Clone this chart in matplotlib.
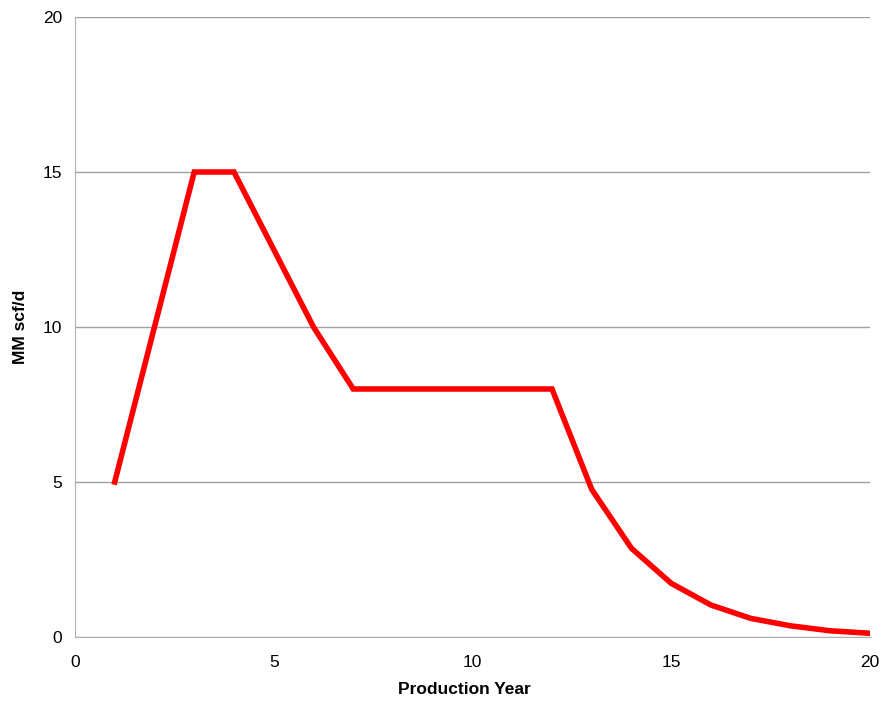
import matplotlib
matplotlib.use("Agg")
import matplotlib.pyplot as plt

plt.rcParams['font.family'] = ['Liberation Sans', 'DejaVu Sans']

years = list(range(1, 21))
production = [5, 10, 15, 15, 12.5, 10, 8, 8, 8, 8, 8, 8,
              4.76, 2.86, 1.73, 1.03, 0.60, 0.36, 0.20, 0.12]

fig = plt.figure(figsize=(8.83, 7.03), dpi=100)
ax = fig.add_axes([0.0849, 0.0939, 0.9004, 0.8819])

ax.plot(years, production, color="#ff0000", linewidth=4, solid_joinstyle="miter")

ax.set_xlim(0, 20)
ax.set_ylim(0, 20)
ax.set_xticks([0, 5, 10, 15, 20])
ax.set_yticks([0, 5, 10, 15, 20])
ax.tick_params(length=0, labelsize=12.5)
ax.tick_params(axis="y", pad=9)
ax.tick_params(axis="x", pad=13)
ax.yaxis.grid(True, color="#a0a0a0", linewidth=1)
ax.set_axisbelow(True)
for side in ["top", "right"]:
    ax.spines[side].set_visible(False)
for side in ["left", "bottom"]:
    ax.spines[side].set_color("#b0b0b0")

ax.set_xlabel("Production Year", fontsize=12.5, fontweight="bold")
ax.xaxis.set_label_coords(0.49, -0.073)
ax.set_ylabel("MM scf/d", fontsize=12.5, fontweight="bold", labelpad=11)

fig.savefig("out.png", dpi=100)
